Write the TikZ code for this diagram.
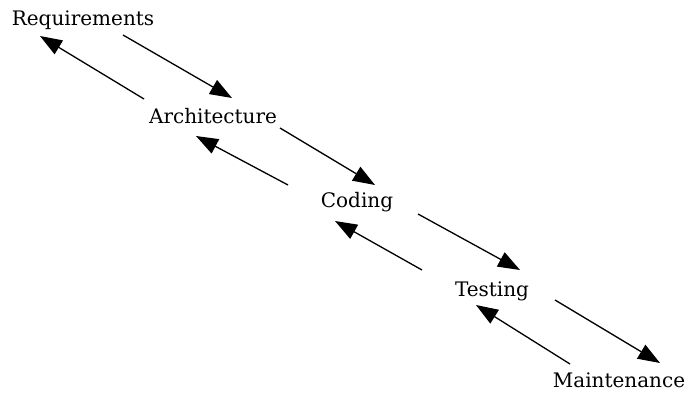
\documentclass[tikz,border=0pt]{standalone}
\usepackage{fontspec}
\setmainfont{DejaVu Serif}
\usetikzlibrary{arrows.meta}
\begin{document}
\begin{tikzpicture}[x=1pt,y=-1pt,
  lbl/.style={inner sep=0pt,anchor=base,font=\fontsize{20}{24}\selectfont},
  arr/.style={line width=1.3pt,-{Triangle[length=22pt,width=16pt]}}]
\useasboundingbox (0,0) rectangle (692,396);
\node[lbl] (req) at (83,25.3) {Requirements};
\node[lbl] (arch) at (213,123) {Architecture};
\node[lbl] (cod) at (357,207.3) {Coding};
\node[lbl] (test) at (492,296.7) {Testing};
\node[lbl] (maint) at (619,387.3) {Maintenance};
\draw[arr] ([shift={(40,9.7)}]req.base) -- ([shift={(19,-25)}]arch.base);
\draw[arr] ([shift={(-69,-24)}]arch.base) -- ([shift={(-43,10.7)}]req.base);
\draw[arr] ([shift={(67,5)}]arch.base) -- ([shift={(18,-22.3)}]cod.base);
\draw[arr] ([shift={(-69,-22.3)}]cod.base) -- ([shift={(-17,13)}]arch.base);
\draw[arr] ([shift={(61,6.7)}]cod.base) -- ([shift={(28,-26.7)}]test.base);
\draw[arr] ([shift={(-70,-26.7)}]test.base) -- ([shift={(-22,13.7)}]cod.base);
\draw[arr] ([shift={(63,3.3)}]test.base) -- ([shift={(41,-24.3)}]maint.base);
\draw[arr] ([shift={(-49,-23.3)}]maint.base) -- ([shift={(-16,8.3)}]test.base);
\end{tikzpicture}
\end{document}
